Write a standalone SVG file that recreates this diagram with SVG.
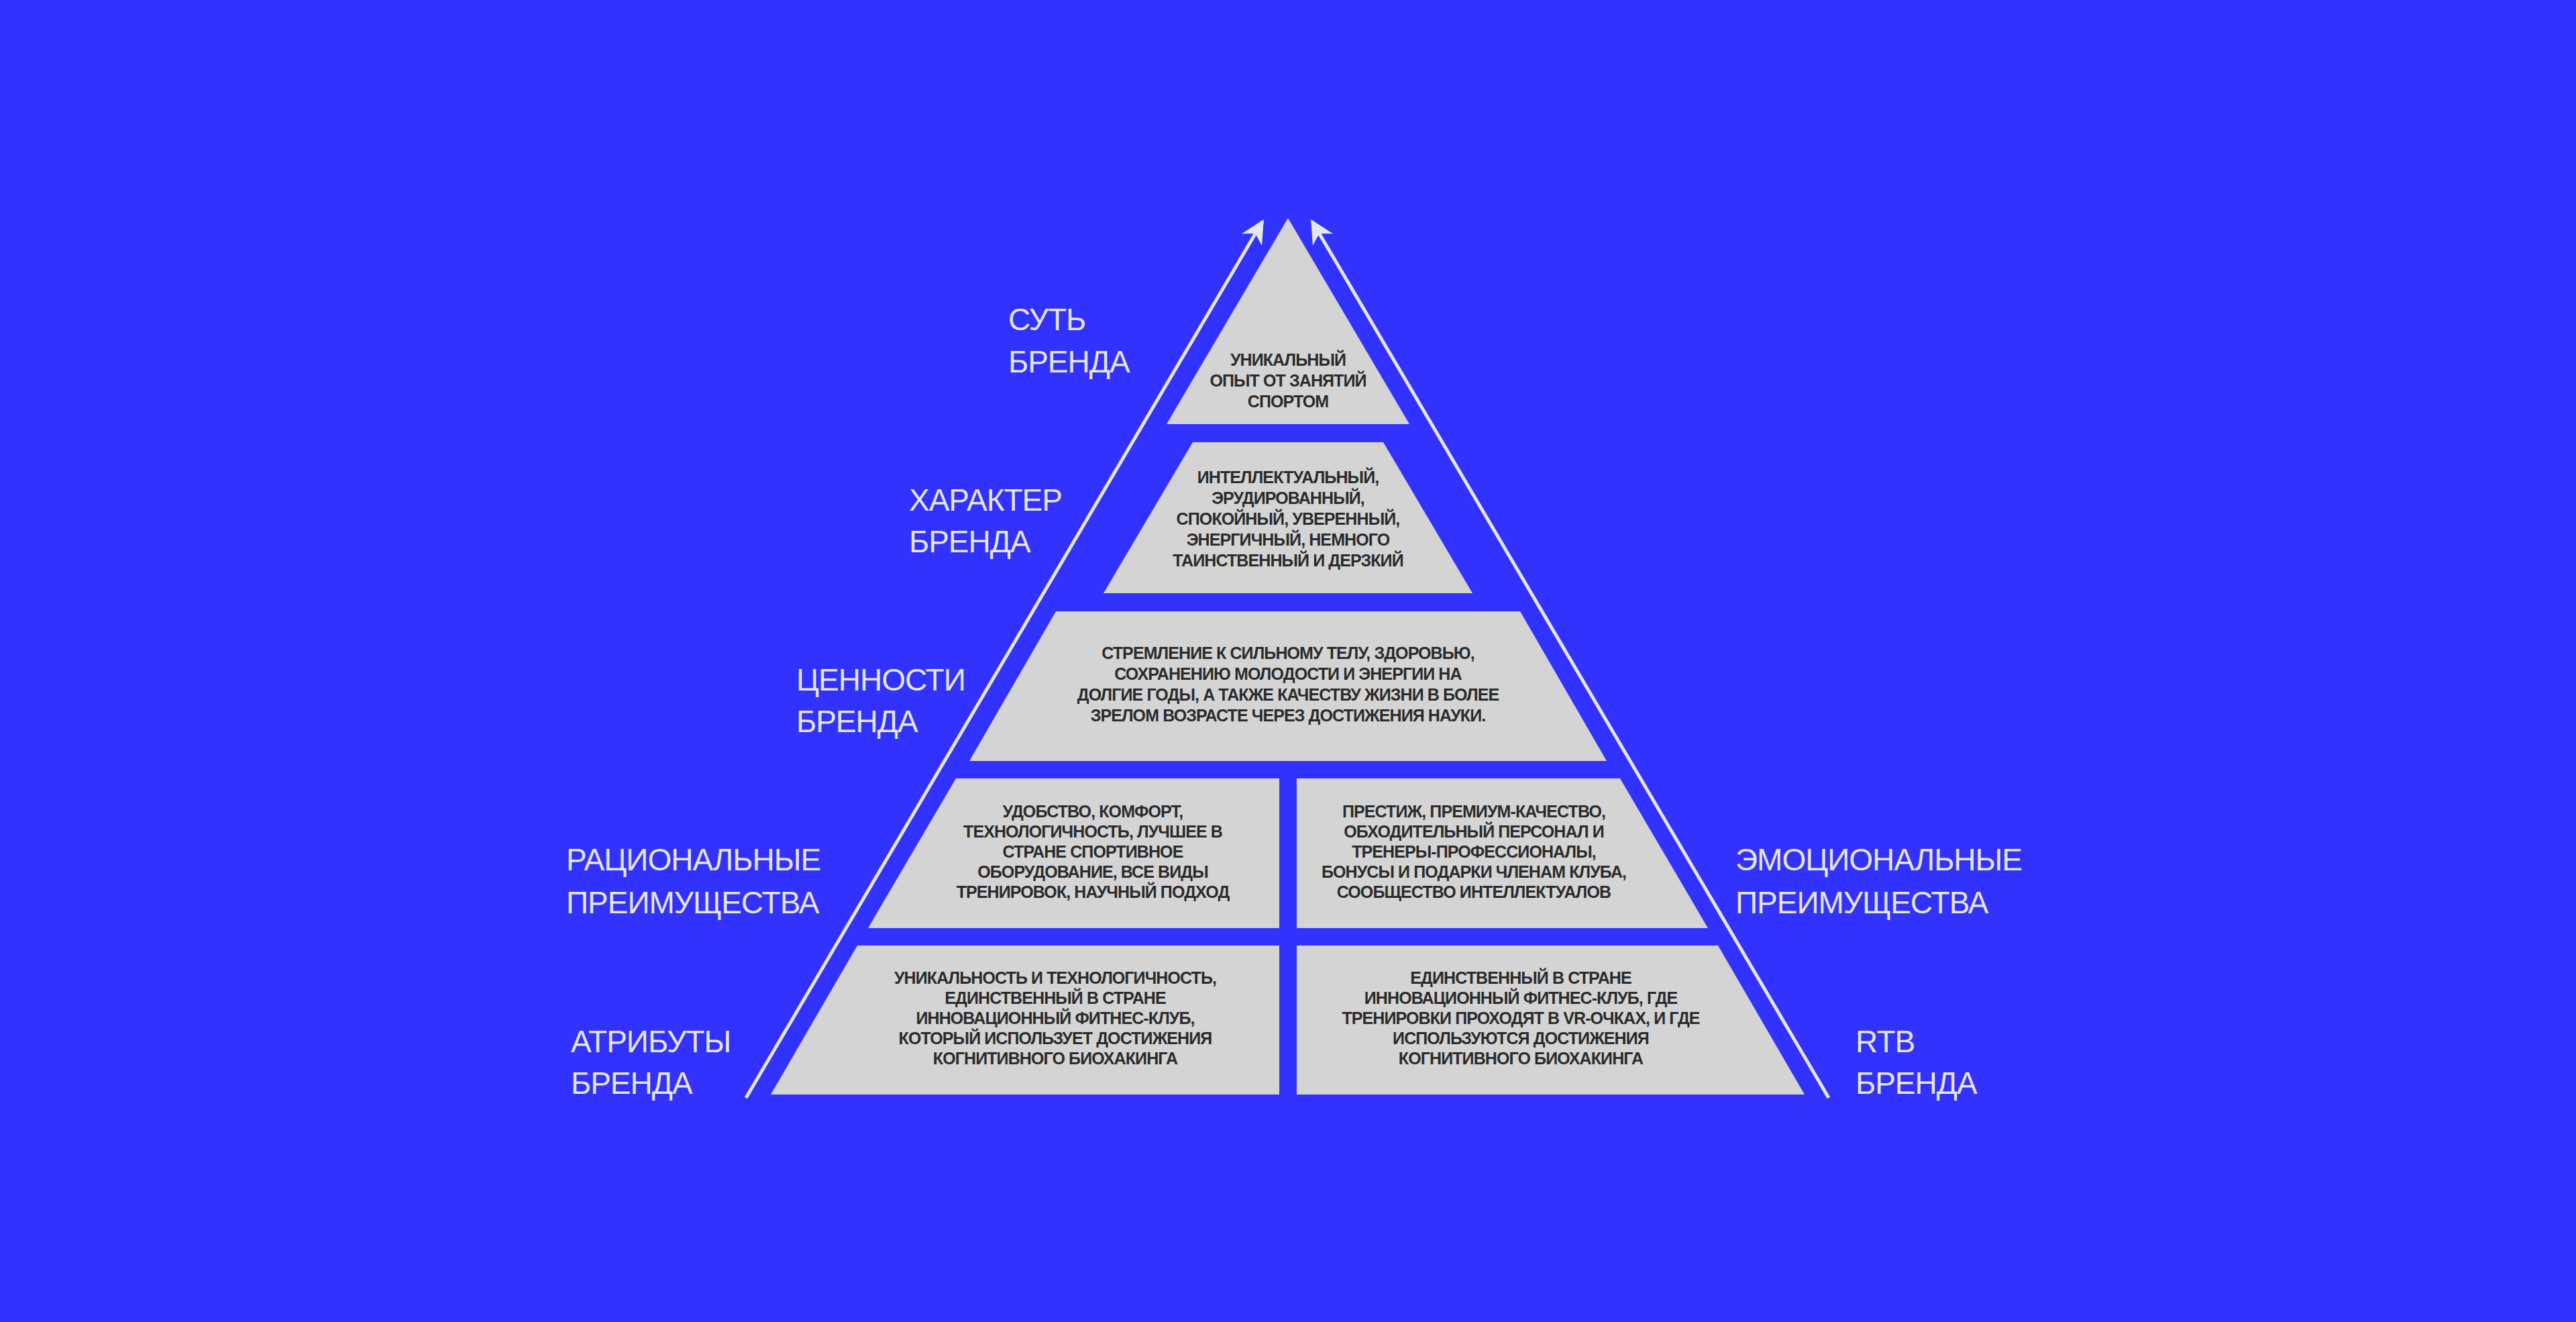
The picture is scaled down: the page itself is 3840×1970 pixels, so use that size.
<svg xmlns="http://www.w3.org/2000/svg" width="3840" height="1970" viewBox="0 0 3840 1970">
<style>
.t{fill:#d4d4d4}
.b{font-family:"Liberation Sans",Arial,sans-serif;font-weight:bold;font-size:25px;fill:#2b2b2b;text-anchor:middle;letter-spacing:-0.9px}
.l{font-family:"Liberation Sans",Arial,sans-serif;font-size:46px;fill:#e6e6ee;letter-spacing:-1px}
.c{stroke:#e6e6ee;stroke-width:5;fill:none}
</style>
<defs>
<marker id="ah" viewBox="0 0 10 10" refX="9" refY="5" markerWidth="7" markerHeight="7" orient="auto" markerUnits="strokeWidth">
<path d="M0,0 L10,5 L0,10 L3,5 Z" fill="#e6e6ee"/>
</marker>
</defs>
<rect width="3840" height="1970" fill="#3232ff"/>
<g id="connectors">
<line class="c" x1="1112" y1="1636" x2="1882" y2="330" marker-end="url(#ah)"/>
<line class="c" x1="2726" y1="1636" x2="1956" y2="330" marker-end="url(#ah)"/>
</g>
<g id="tier1"><polygon class="t" points="1920,325 2101,632 1739,632"/>
<text class="b"><tspan x="1920" y="545">УНИКАЛЬНЫЙ</tspan><tspan x="1920" y="576">ОПЫТ ОТ ЗАНЯТИЙ</tspan><tspan x="1920" y="607">СПОРТОМ</tspan></text></g>
<g id="tier2"><polygon class="t" points="1778,659 2062,659 2195,884 1645,884" transform="translate(0,0)"/>
<text class="b"><tspan x="1920" y="720">ИНТЕЛЛЕКТУАЛЬНЫЙ,</tspan><tspan x="1920" y="751">ЭРУДИРОВАННЫЙ,</tspan><tspan x="1920" y="782">СПОКОЙНЫЙ, УВЕРЕННЫЙ,</tspan><tspan x="1920" y="813">ЭНЕРГИЧНЫЙ, НЕМНОГО</tspan><tspan x="1920" y="844">ТАИНСТВЕННЫЙ И ДЕРЗКИЙ</tspan></text></g>
<g id="tier3"><polygon class="t" points="1574,911 2266,911 2395,1134 1445,1134"/>
<text class="b"><tspan x="1920" y="982">СТРЕМЛЕНИЕ К СИЛЬНОМУ ТЕЛУ, ЗДОРОВЬЮ,</tspan><tspan x="1920" y="1013">СОХРАНЕНИЮ МОЛОДОСТИ И ЭНЕРГИИ НА</tspan><tspan x="1920" y="1044">ДОЛГИЕ ГОДЫ, А ТАКЖЕ КАЧЕСТВУ ЖИЗНИ В БОЛЕЕ</tspan><tspan x="1920" y="1075">ЗРЕЛОМ ВОЗРАСТЕ ЧЕРЕЗ ДОСТИЖЕНИЯ НАУКИ.</tspan></text></g>
<g id="rational"><polygon class="t" points="1425,1160 1907,1160 1907,1383 1294,1383"/>
<text class="b"><tspan x="1629" y="1218">УДОБСТВО, КОМФОРТ,</tspan><tspan x="1629" y="1248">ТЕХНОЛОГИЧНОСТЬ, ЛУЧШЕЕ В</tspan><tspan x="1629" y="1278">СТРАНЕ СПОРТИВНОЕ</tspan><tspan x="1629" y="1308">ОБОРУДОВАНИЕ, ВСЕ ВИДЫ</tspan><tspan x="1629" y="1338">ТРЕНИРОВОК, НАУЧНЫЙ ПОДХОД</tspan></text></g>
<g id="emotional"><polygon class="t" points="1933,1160 2415,1160 2546,1383 1933,1383"/>
<text class="b"><tspan x="2197" y="1218">ПРЕСТИЖ, ПРЕМИУМ-КАЧЕСТВО,</tspan><tspan x="2197" y="1248">ОБХОДИТЕЛЬНЫЙ ПЕРСОНАЛ И</tspan><tspan x="2197" y="1278">ТРЕНЕРЫ-ПРОФЕССИОНАЛЫ,</tspan><tspan x="2197" y="1308">БОНУСЫ И ПОДАРКИ ЧЛЕНАМ КЛУБА,</tspan><tspan x="2197" y="1338">СООБЩЕСТВО ИНТЕЛЛЕКТУАЛОВ</tspan></text></g>
<g id="attributes"><polygon class="t" points="1278,1409 1907,1409 1907,1631 1149,1631"/>
<text class="b"><tspan x="1573" y="1466">УНИКАЛЬНОСТЬ И ТЕХНОЛОГИЧНОСТЬ,</tspan><tspan x="1573" y="1496">ЕДИНСТВЕННЫЙ В СТРАНЕ</tspan><tspan x="1573" y="1526">ИННОВАЦИОННЫЙ ФИТНЕС-КЛУБ,</tspan><tspan x="1573" y="1556">КОТОРЫЙ ИСПОЛЬЗУЕТ ДОСТИЖЕНИЯ</tspan><tspan x="1573" y="1586">КОГНИТИВНОГО БИОХАКИНГА</tspan></text></g>
<g id="rtb"><polygon class="t" points="1933,1409 2561,1409 2690,1631 1933,1631"/>
<text class="b"><tspan x="2267" y="1466">ЕДИНСТВЕННЫЙ В СТРАНЕ</tspan><tspan x="2267" y="1496">ИННОВАЦИОННЫЙ ФИТНЕС-КЛУБ, ГДЕ</tspan><tspan x="2267" y="1526">ТРЕНИРОВКИ ПРОХОДЯТ В VR-ОЧКАХ, И ГДЕ</tspan><tspan x="2267" y="1556">ИСПОЛЬЗУЮТСЯ ДОСТИЖЕНИЯ</tspan><tspan x="2267" y="1586">КОГНИТИВНОГО БИОХАКИНГА</tspan></text></g>
<g id="labels">
<text class="l"><tspan x="1503" y="492">СУТЬ</tspan><tspan x="1503" y="555">БРЕНДА</tspan></text>
<text class="l"><tspan x="1355" y="761">ХАРАКТЕР</tspan><tspan x="1355" y="823">БРЕНДА</tspan></text>
<text class="l"><tspan x="1187" y="1029">ЦЕННОСТИ</tspan><tspan x="1187" y="1091">БРЕНДА</tspan></text>
<text class="l"><tspan x="844" y="1297">РАЦИОНАЛЬНЫЕ</tspan><tspan x="844" y="1361">ПРЕИМУЩЕСТВА</tspan></text>
<text class="l"><tspan x="2587" y="1297">ЭМОЦИОНАЛЬНЫЕ</tspan><tspan x="2587" y="1361">ПРЕИМУЩЕСТВА</tspan></text>
<text class="l"><tspan x="851" y="1568">АТРИБУТЫ</tspan><tspan x="851" y="1630">БРЕНДА</tspan></text>
<text class="l"><tspan x="2766" y="1568">RTB</tspan><tspan x="2766" y="1630">БРЕНДА</tspan></text>
</g>
</svg>
